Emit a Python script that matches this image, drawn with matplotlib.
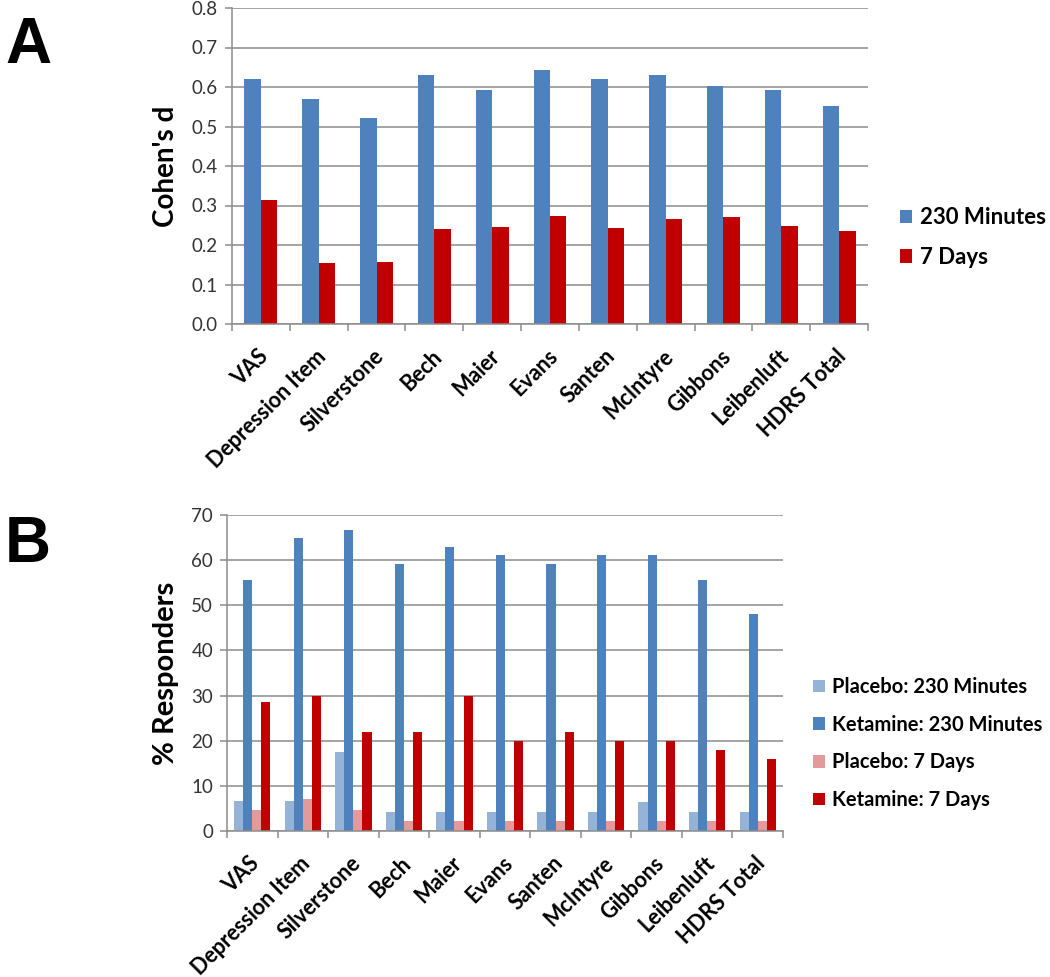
import matplotlib
matplotlib.use("Agg")
import matplotlib.pyplot as plt
import numpy as np
from matplotlib.transforms import ScaledTranslation

categories = ["VAS", "Depression Item", "Silverstone", "Bech", "Maier", "Evans",
              "Santen", "McIntyre", "Gibbons", "Leibenluft", "HDRS Total"]

# Panel A: Cohen's d
d_230min = [0.62, 0.57, 0.521, 0.630, 0.592, 0.642, 0.621, 0.630, 0.603, 0.592, 0.552]
d_7days = [0.313, 0.155, 0.158, 0.240, 0.246, 0.273, 0.243, 0.267, 0.270, 0.249, 0.235]
a_series = ["230 Minutes", "7 Days"]

# Panel B: % responders
placebo_230 = [6.7, 6.7, 17.4, 4.1, 4.1, 4.1, 4.1, 4.1, 6.4, 4.1, 4.1]
ketamine_230 = [55.5, 64.8, 66.6, 59.2, 62.9, 61.1, 59.2, 61.1, 61.1, 55.5, 48.0]
placebo_7d = [4.65, 7.0, 4.65, 2.2, 2.2, 2.2, 2.2, 2.2, 2.2, 2.2, 2.2]
ketamine_7d = [28.5, 30.0, 21.9, 21.9, 30.0, 20.0, 21.9, 20.0, 20.0, 17.9, 16.0]
b_series = ["Placebo: 230 Minutes", "Ketamine: 230 Minutes",
            "Placebo: 7 Days", "Ketamine: 7 Days"]

BLUE = "#4F81BD"
RED = "#C00000"
LBLUE = "#95B3D7"
PINK = "#E39A9A"
GRID = "#8C8C8C"
FONT = "Lato"

fig = plt.figure(figsize=(10.5, 9.77), dpi=100)

def style_axes(ax, n, ymax, ystep, fmt):
    ax.set_xlim(0, n)
    ax.set_ylim(0, ymax)
    yt = np.arange(0, ymax + ystep / 2, ystep)
    ax.set_yticks(yt)
    ax.set_yticklabels([fmt.format(v) for v in yt], fontsize=13.5,
                       family=FONT, color="#333333")
    ax.yaxis.grid(True, color=GRID, linewidth=1.1)
    ax.set_axisbelow(True)
    for s in ["top", "right"]:
        ax.spines[s].set_visible(False)
    for s in ["left", "bottom"]:
        ax.spines[s].set_color(GRID)
        ax.spines[s].set_linewidth(1.1)
    ax.tick_params(axis="y", length=5, width=1.1, color=GRID, pad=5)
    ax.set_xticks(np.arange(0, n + 1), minor=True)
    ax.tick_params(axis="x", which="minor", length=5, width=1.1, color=GRID)
    ax.set_xticks(np.arange(n) + 0.5)
    ax.tick_params(axis="x", which="major", length=0, pad=0)
    ax.set_xticklabels(categories, rotation=45, ha="right", va="center",
                       rotation_mode="anchor", fontsize=15.5, fontweight="bold",
                       family=FONT)
    off = ScaledTranslation(4 / 100, -29 / 100, fig.dpi_scale_trans)
    for lab in ax.get_xticklabels():
        lab.set_transform(lab.get_transform() + off)

n = len(categories)
x = np.arange(n) + 0.5

# Panel A
axA = fig.add_axes([232 / 1050, 1 - 324 / 977, 636 / 1050, 316 / 977])
wA = 0.285
axA.bar(x - wA / 2, d_230min, wA, color=BLUE, label=a_series[0])
axA.bar(x + wA / 2, d_7days, wA, color=RED, label=a_series[1])
style_axes(axA, n, 0.8, 0.1, "{:.1f}")
axA.set_ylabel("Cohen's d", fontsize=20, fontweight="bold", family=FONT, labelpad=9)
axA.legend(loc="center left", bbox_to_anchor=(900 / 1050, 1 - 237.5 / 977),
           bbox_transform=fig.transFigure, frameon=False, borderpad=0,
           borderaxespad=0, handlelength=0.55, handleheight=0.55,
           handletextpad=0.35, labelspacing=0.85,
           prop={"family": FONT, "weight": "bold", "size": 16})

# Panel B
axB = fig.add_axes([227 / 1050, 1 - 831 / 977, 556 / 1050, 316 / 977])
wB = 0.18
series_b = [placebo_230, ketamine_230, placebo_7d, ketamine_7d]
colors_b = [LBLUE, BLUE, PINK, RED]
for i, (vals, c, lab) in enumerate(zip(series_b, colors_b, b_series)):
    axB.bar(x + (i - 1.5) * wB, vals, wB, color=c, label=lab)
style_axes(axB, n, 70, 10, "{:.0f}")
axB.set_ylabel("% Responders", fontsize=21, fontweight="bold", family=FONT, labelpad=9)
axB.legend(loc="center left", bbox_to_anchor=(813 / 1050, 1 - 743.5 / 977),
           bbox_transform=fig.transFigure, frameon=False, borderpad=0,
           borderaxespad=0, handlelength=0.58, handleheight=0.58,
           handletextpad=0.35, labelspacing=0.88,
           prop={"family": FONT, "weight": "bold", "size": 14.5})

fig.text(5 / 1050, 1 - 46 / 977, "A", fontsize=46, fontweight="bold",
         family="Liberation Sans", va="center", ha="left")
fig.text(5 / 1050, 1 - 545 / 977, "B", fontsize=46, fontweight="bold",
         family="Liberation Sans", va="center", ha="left")

fig.savefig("out.png", dpi=100)
